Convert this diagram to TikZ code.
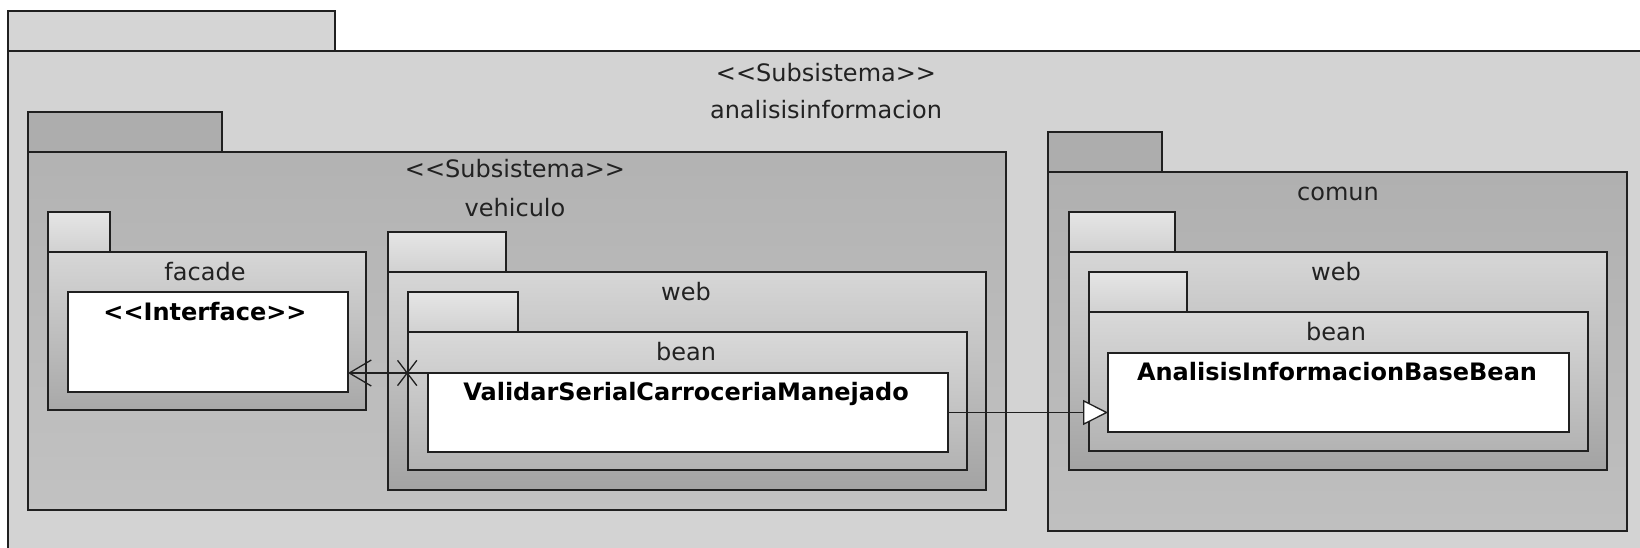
\documentclass[tikz,border=0pt]{standalone}
\usepackage{fontspec}
\setmainfont{DejaVu Sans}
\usepackage{xcolor}
\usepackage{tikz}
\usetikzlibrary{arrows.meta, positioning, shapes.misc}
\definecolor{pkgline}{RGB}{32,32,32}
\definecolor{labeltext}{RGB}{34,34,34}
\definecolor{sysbg}{RGB}{211,211,211}
\definecolor{systab}{RGB}{213,213,213}
\definecolor{subtab}{RGB}{173,173,173}
\newcommand{\stereo}[1]{<{}<#1>{}>}

\begin{document}
\begin{tikzpicture}[x=1pt, y=-1pt,
  pkgbody/.style={rectangle, draw=pkgline, line width=1.8pt, anchor=north west, inner sep=0pt, outer sep=0pt},
  pkgtab/.style={rectangle, draw=pkgline, line width=1.8pt, anchor=south west, inner sep=0pt, outer sep=0pt, minimum height=40pt},
  cls/.style={rectangle, draw=pkgline, line width=1.8pt, fill=white, anchor=north west, inner sep=0pt, outer sep=0pt},
  lbl/.style={font=\fontsize{24}{28}\selectfont, text=labeltext, text height=17pt, text depth=5pt, inner sep=0pt},
  clsname/.style={font=\fontsize{24}{28}\selectfont\bfseries, text=black, text height=17pt, text depth=5pt, inner sep=0pt},
  assoc/.style={-{Straight Barb[length=22pt, width=26pt, line width=1.3pt]}, line width=1.3pt, pkgline},
  gen/.style={-{Triangle[length=25pt, width=25pt, fill=white, line width=1.3pt]}, line width=1.3pt, pkgline},
  crossmark/.style={cross out, draw=pkgline, line width=1.3pt, minimum width=18pt, minimum height=24pt, inner sep=0pt}
]
\fill[white] (0,0) rectangle (1640,547);
\useasboundingbox (0,0) rectangle (1640,547);

% outer subsystem
\node[pkgbody, fill=sysbg, minimum width=1680pt, minimum height=540pt] (sys) at (8,51) {};
\node[pkgtab, fill=systab, minimum width=327pt] (systab) at (sys.north west) {};
\node[lbl] (sysst) at (826,75) {\stereo{Subsistema}};
\node[lbl] (sysname) at (826,112) {analisisinformacion};

% vehiculo
\node[pkgbody, top color=black!30, bottom color=black!24, minimum width=978pt, minimum height=358pt] (veh) at (28,152) {};
\node[pkgtab, fill=subtab, minimum width=194pt] (vehtab) at (veh.north west) {};
\node[lbl] (vehst) at (515,171) {\stereo{Subsistema}};
\node[lbl] (vehname) at (515,210) {vehiculo};

\node[pkgbody, top color=black!16, bottom color=black!34, minimum width=318pt, minimum height=158pt] (facade) at (48,252) {};
\node[pkgtab, top color=black!10, bottom color=black!18, minimum width=62pt] (facadetab) at (facade.north west) {};
\node[lbl] (facadename) at (205,274) {facade};
\node[cls, minimum width=280pt, minimum height=100pt] (iface) at (68,292) {};
\node[clsname] (ifacename) at (205,314) {\stereo{Interface}};

\node[pkgbody, top color=black!16, bottom color=black!36, minimum width=598pt, minimum height=218pt] (vweb) at (388,272) {};
\node[pkgtab, top color=black!10, bottom color=black!18, minimum width=118pt] (vwebtab) at (vweb.north west) {};
\node[lbl] (vwebname) at (686,294) {web};
\node[pkgbody, top color=black!15, bottom color=black!30, minimum width=559pt, minimum height=138pt] (vbean) at (408,332) {};
\node[pkgtab, top color=black!10, bottom color=black!18, minimum width=110pt] (vbeantab) at (vbean.north west) {};
\node[lbl] (vbeanname) at (686,354) {bean};
\node[cls, minimum width=520pt, minimum height=79pt] (valid) at (428,373) {};
\node[clsname] (validname) at (686,394) {ValidarSerialCarroceriaManejado};

% comun
\node[pkgbody, top color=black!31, bottom color=black!25, minimum width=579pt, minimum height=359pt] (comun) at (1048,172) {};
\node[pkgtab, fill=subtab, minimum width=114pt] (comuntab) at (comun.north west) {};
\node[lbl] (comunname) at (1338,194) {comun};

\node[pkgbody, top color=black!16, bottom color=black!36, minimum width=538pt, minimum height=218pt] (cweb) at (1069,252) {};
\node[pkgtab, top color=black!10, bottom color=black!18, minimum width=106pt] (cwebtab) at (cweb.north west) {};
\node[lbl] (cwebname) at (1336,274) {web};
\node[pkgbody, top color=black!15, bottom color=black!30, minimum width=499pt, minimum height=139pt] (cbean) at (1089,312) {};
\node[pkgtab, top color=black!10, bottom color=black!18, minimum width=98pt] (cbeantab) at (cbean.north west) {};
\node[lbl] (cbeanname) at (1336,334) {bean};
\node[cls, minimum width=461pt, minimum height=79pt] (aibb) at (1108,353) {};
\node[clsname] (aibbname) at (1337,374) {AnalisisInformacionBaseBean};

% relations
\draw[assoc] (valid.north west) -- node[crossmark, pos=0.26] (navx) {} (valid.north west -| iface.east);
\draw[gen] (valid.east) -- (valid.east -| aibb.west);
\end{tikzpicture}
\end{document}
